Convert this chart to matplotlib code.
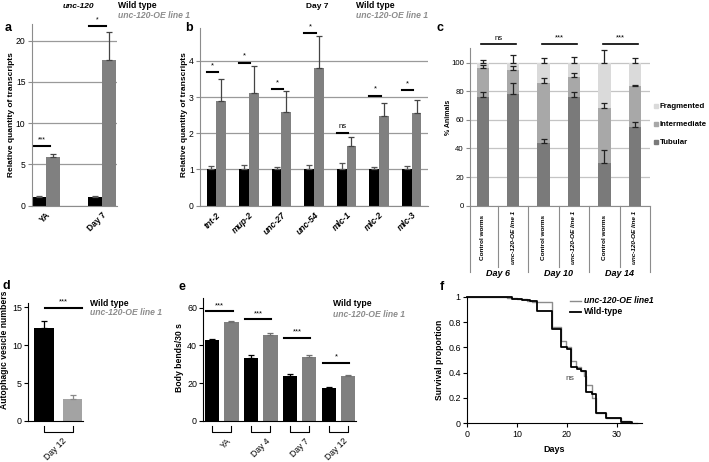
import matplotlib
matplotlib.use("Agg")
import matplotlib.pyplot as plt
import matplotlib.transforms as mtransforms
from matplotlib.patches import Rectangle
import numpy as np

plt.rcParams['font.family'] = ['Liberation Sans', 'DejaVu Sans']

W, H = 709, 462
GREY_TXT = '#8c8c8c'

# ---- panel a: unc-120 transcripts
a_groups = ['YA', 'Day 7']
a_wt = [1.0, 1.0]
a_wt_err = [0.15, 0.15]
a_oe = [5.85, 17.7]
a_oe_err = [0.35, 3.3]
a_sig = ['***', '*']
a_sig_y = [7.2, 21.8]

# ---- panel b: muscle genes at day 7
b_genes = ['tnt-2', 'mup-2', 'unc-27', 'unc-54', 'mlc-1', 'mlc-2', 'mlc-3']
b_wt = [1.0, 1.02, 1.0, 1.0, 1.0, 1.0, 1.0]
b_wt_err = [0.1, 0.1, 0.07, 0.13, 0.18, 0.06, 0.1]
b_oe = [2.9, 3.1, 2.58, 3.8, 1.64, 2.47, 2.57]
b_oe_err = [0.6, 0.76, 0.58, 0.89, 0.25, 0.38, 0.35]
b_sig = ['*', '*', '*', '*', 'ns', '*', '*']
b_sig_y = [3.68, 3.95, 3.22, 4.76, 2.02, 3.04, 3.2]

# ---- panel c: mitochondria morphology
c_labels = ['Control worms', 'unc-120-OE line 1'] * 3
c_days = ['Day 6', 'Day 10', 'Day 14']
c_tub = [76, 78, 44, 76, 30, 55]
c_int = [20, 17, 42, 14, 38, 29]
c_frag = [4, 5, 14, 10, 32, 16]
c_tub_err = [3.7, 8, 2.4, 3.5, 8.6, 3.3]
c_int_err = [2, 2.8, 3.5, 2.8, 3.7, 0.5]
c_frag_err = [2, 5, 3, 4, 8.8, 3]
c_sig = ['ns', '***', '***']

# ---- panel d: autophagic vesicles
d_group = 'Day 12'
d_wt, d_wt_err = 12.3, 0.9
d_oe, d_oe_err = 2.9, 0.5

# ---- panel e: body bends
e_groups = ['YA', 'Day 4', 'Day 7', 'Day 12']
e_wt = [43, 33.5, 23.8, 17.1]
e_wt_err = [0.6, 1.6, 0.8, 0.8]
e_oe = [52.5, 45.5, 33.9, 23.8]
e_oe_err = [0.7, 1.2, 0.9, 0.6]
e_sig = ['***', '***', '***', '*']
e_sig_y = [58, 53.8, 44.1, 30.7]

# ---- panel f: survival
f_wt_t = [0, 7, 9, 11, 12.5, 14, 17, 18.7, 20, 20.7, 21.9, 22.8, 23.8, 24.9, 25.8, 27.8, 30.8, 33]
f_wt_s = [1, 0.995, 0.985, 0.975, 0.965, 0.885, 0.745, 0.605, 0.59, 0.447, 0.43, 0.416, 0.25, 0.23, 0.08, 0.04, 0.013, 0.0]
f_oe_t = [0, 8, 10, 12, 13, 17, 18.7, 19.8, 20.7, 21.7, 22.8, 23.4, 23.8, 24.9, 25.8, 27.8, 30.8, 32.5, 34]
f_oe_s = [1, 0.99, 0.98, 0.965, 0.955, 0.76, 0.65, 0.605, 0.49, 0.445, 0.415, 0.37, 0.3, 0.2, 0.08, 0.04, 0.015, 0.005, 0.0]


def box(l, t, r, b):
    return [l / W, 1 - b / H, (r - l) / W, (b - t) / H]


fig = plt.figure(figsize=(W / 100, H / 100), dpi=100)


def ftext(x, y, s, **kw):
    fig.text(x / W, 1 - y / H, s, **kw)


def excel_axes(ax, gridcolor, fs=6.2):
    for s in ['top', 'right']:
        ax.spines[s].set_visible(False)
    ax.spines['left'].set_color('#8c8c8c')
    ax.spines['bottom'].set_color('#8c8c8c')
    ax.yaxis.grid(True, color=gridcolor, lw=0.9)
    ax.set_axisbelow(True)
    ax.tick_params(axis='y', length=3, color='#8c8c8c', labelsize=fs, pad=1.5)
    ax.tick_params(axis='x', length=0)


def prism_axes(ax):
    for s in ['top', 'right']:
        ax.spines[s].set_visible(False)
    for s in ['left', 'bottom']:
        ax.spines[s].set_linewidth(0.8)
    ax.tick_params(axis='both', length=3, width=0.8, labelsize=6.4, pad=1.5)


def sig(ax, x0, x1, y, label, dy, fs=5.5):
    ax.plot([x0, x1], [y, y], color='black', lw=1.5, clip_on=False)
    ax.text((x0 + x1) / 2, y + dy, label, ha='center', va='bottom', fontsize=fs, clip_on=False)


errkw = dict(capsize=2.5, elinewidth=0.9, capthick=0.9)

# ================= a
ax = fig.add_axes(box(31.7, 24, 116.7, 205.7))
excel_axes(ax, '#9a9a9a')
x = np.arange(len(a_groups))
ax.bar(x - 0.125, a_wt, 0.25, color='black', zorder=2)
ax.bar(x + 0.125, a_oe, 0.25, color='#808080', zorder=2)
ax.errorbar(x - 0.125, a_wt, yerr=[np.zeros(2), a_wt_err], fmt='none', ecolor='#555555', **errkw)
ax.errorbar(x + 0.125, a_oe, yerr=[np.zeros(2), a_oe_err], fmt='none', ecolor='#444444', **errkw)
for i in range(len(a_groups)):
    sig(ax, x[i] - 0.22, x[i] + 0.07, a_sig_y[i], a_sig[i], 0.3, 5)
ax.set_xlim(-0.26, 1.27)
ax.set_ylim(0, 22)
ax.set_yticks([0, 5, 10, 15, 20])
ax.set_xticks(x)
ax.set_xticklabels(a_groups, rotation=45, ha='right', rotation_mode='anchor', fontsize=6.2, fontweight='bold')

# ================= b
ax = fig.add_axes(box(200, 28.3, 428, 205.7))
excel_axes(ax, '#9a9a9a')
x = np.arange(len(b_genes))
ax.bar(x - 0.15, b_wt, 0.3, color='black', zorder=2)
ax.bar(x + 0.15, b_oe, 0.3, color='#808080', zorder=2)
ax.errorbar(x - 0.15, b_wt, yerr=[np.zeros(7), b_wt_err], fmt='none', ecolor='#555555', **errkw)
ax.errorbar(x + 0.15, b_oe, yerr=[np.zeros(7), b_oe_err], fmt='none', ecolor='#444444', **errkw)
for i in range(len(b_genes)):
    sig(ax, x[i] - 0.3, x[i] + 0.05, b_sig_y[i], b_sig[i], 0.08, 5.5)
ax.set_xlim(-0.5, 6.5)
ax.set_ylim(0, 4.9)
ax.set_yticks([0, 1, 2, 3, 4])
ax.set_xticks(x)
ax.set_xticklabels(b_genes, rotation=45, ha='right', rotation_mode='anchor', fontsize=6.2,
                   fontweight='bold', fontstyle='italic')

# ================= c
ax = fig.add_axes(box(470, 48.3, 650, 205.7))
excel_axes(ax, '#c4c4c4', fs=5.6)
x = np.arange(len(c_labels))
tub = np.array(c_tub)
itm = np.array(c_int)
frg = np.array(c_frag)
ax.bar(x, tub, 0.41, color='#7a7a7a', zorder=2)
ax.bar(x, itm, 0.41, bottom=tub, color='#a8a8a8', zorder=2)
ax.bar(x, frg, 0.41, bottom=tub + itm, color='#dadada', zorder=2)
for top, err in [(tub, c_tub_err), (tub + itm, c_int_err), (tub + itm + frg, c_frag_err)]:
    ax.errorbar(x, top, yerr=[np.zeros(6), err], fmt='none', ecolor='#222222', zorder=3, **errkw)
for k in range(3):
    x0, x1 = 2 * k - 0.05, 2 * k + 1.1
    ax.plot([x0, x1], [112.8, 112.8], color='black', lw=1.2, clip_on=False)
    ax.text((x0 + x1) / 2, 114.5, c_sig[k], ha='center', va='bottom', fontsize=5.5, clip_on=False)
ax.set_xlim(-0.42, 5.5)
ax.set_ylim(0, 110)
ax.set_yticks(range(0, 101, 20))
ax.set_xticks([])
trans = mtransforms.blended_transform_factory(ax.transData, ax.transAxes)
for xb, ln in [(-0.42, -0.42), (0.5, -0.388), (1.5, -0.42), (2.5, -0.388), (3.5, -0.42), (4.5, -0.388), (5.5, -0.42)]:
    ax.plot([xb, xb], [0, ln], transform=trans, color='#8c8c8c', lw=0.8, clip_on=False)
for i, lab in enumerate(c_labels):
    st = 'normal' if i % 2 == 0 else 'italic'
    ax.text(x[i], -0.2, lab, transform=trans, rotation=90, ha='center', va='center',
            fontsize=4.6, fontweight='bold', fontstyle=st)
for k, day in enumerate(c_days):
    ax.text(2 * k + 0.5, -0.43, day, transform=trans, ha='center', va='center',
            fontsize=6.5, fontweight='bold', fontstyle='italic')
c_leg = [('Fragmented', '#dadada', 106), ('Intermediate', '#a8a8a8', 124), ('Tubular', '#7a7a7a', 142.3)]
for name, col, yy in c_leg:
    fig.add_artist(Rectangle((654 / W, 1 - (yy + 2) / H), 4 / W, 4 / H, color=col, transform=fig.transFigure))
    ftext(659.5, yy, name, fontsize=5.7, fontweight='bold', va='center')

# ================= d
ax = fig.add_axes(box(28.3, 303.3, 82.7, 421))
prism_axes(ax)
ax.bar([0], [d_wt], 0.68, color='black', zorder=2)
ax.bar([1], [d_oe], 0.68, color='#a3a3a3', zorder=2)
ax.errorbar([0], [d_wt], yerr=[[0], [d_wt_err]], fmt='none', ecolor='black', **errkw)
ax.errorbar([1], [d_oe], yerr=[[0], [d_oe_err]], fmt='none', ecolor='#8a8a8a', **errkw)
sig(ax, 0.045, 1.32, 14.9, '***', 0.3, 5.5)
ax.set_xlim(-0.535, 1.35)
ax.set_ylim(0, 15.5)
ax.set_yticks([0, 5, 10, 15])
ax.set_xticks([])
trans = mtransforms.blended_transform_factory(ax.transData, ax.transAxes)
ax.plot([0, 0, 1, 1], [-0.04, -0.09, -0.09, -0.04], transform=trans, color='black', lw=0.8, clip_on=False)
ax.text(0.62, -0.13, d_group, transform=trans, rotation=45, ha='right', va='top',
        rotation_mode='anchor', fontsize=6.2)

# ================= e
ax = fig.add_axes(box(203.3, 298.3, 356, 420.7))
prism_axes(ax)
x = np.arange(len(e_groups))
ax.bar(x - 0.25, e_wt, 0.37, color='black', zorder=2)
ax.bar(x + 0.25, e_oe, 0.37, color='#808080', zorder=2)
ax.errorbar(x - 0.25, e_wt, yerr=[np.zeros(4), e_wt_err], fmt='none', ecolor='black', **errkw)
ax.errorbar(x + 0.25, e_oe, yerr=[np.zeros(4), e_oe_err], fmt='none', ecolor='#707070', **errkw)
for i in range(len(e_groups)):
    sig(ax, x[i] - 0.4, x[i] + 0.28, e_sig_y[i], e_sig[i], 1.2, 5.5)
ax.set_xlim(-0.47, 3.45)
ax.set_ylim(0, 65)
ax.set_yticks([0, 20, 40, 60])
ax.set_xticks([])
trans = mtransforms.blended_transform_factory(ax.transData, ax.transAxes)
for i, g in enumerate(e_groups):
    ax.plot([i - 0.25, i - 0.25, i + 0.25, i + 0.25], [-0.041, -0.09, -0.09, -0.041],
            transform=trans, color='black', lw=0.8, clip_on=False)
    ax.text(i + 0.12, -0.13, g, transform=trans, rotation=45, ha='right', va='top',
            rotation_mode='anchor', fontsize=6.2)

# ================= f
ax = fig.add_axes(box(467, 296.7, 642, 423.3))
prism_axes(ax)
ax.step(f_oe_t, f_oe_s, where='post', color='#8c8c8c', lw=1.0, clip_on=False)
ax.step(f_wt_t, f_wt_s, where='post', color='black', lw=1.3, clip_on=False)
ax.text(20.5, 0.35, 'ns', ha='center', va='center', fontsize=6, color='#444444')
ax.set_xlim(0, 35)
ax.set_ylim(0, 1)
ax.set_xticks([0, 10, 20, 30])
ax.set_yticks([0, 0.2, 0.4, 0.6, 0.8, 1])
ax.set_yticklabels(['0', '0.2', '0.4', '0.6', '0.8', '1'])
ax.set_xlabel('Days', fontsize=6.5, fontweight='bold', labelpad=5)
fig.add_artist(plt.Line2D([570 / W, 581 / W], [1 - 300.7 / H] * 2, color='#8c8c8c', lw=1.0))
fig.add_artist(plt.Line2D([570 / W, 581 / W], [1 - 312 / H] * 2, color='black', lw=1.3))
ftext(584, 300.7, 'unc-120-OE line1', fontsize=6.2, fontweight='bold', fontstyle='italic', va='center')
ftext(584, 312, 'Wild-type', fontsize=6.2, fontweight='bold', va='center')

# ---- panel letters, y labels, legends
for let, (px, py) in zip('abcdef', [(8, 28), (189, 28), (440, 28), (6, 286), (182, 287), (442, 287)]):
    ftext(px, py, let, fontsize=9, fontweight='bold', ha='center', va='center')

ftext(11.5, 115, 'Relative quantity of transcripts', rotation=90, fontsize=6, fontweight='bold', ha='center', va='center')
ftext(185, 115, 'Relative quantity of transcripts', rotation=90, fontsize=6, fontweight='bold', ha='center', va='center')
ftext(448, 117, '% Animals', rotation=90, fontsize=5, fontweight='bold', ha='center', va='center')
ftext(5, 350, 'Autophagic vesicle numbers', rotation=90, fontsize=6.2, fontweight='bold', ha='center', va='center')
ftext(180, 358, 'Body bends/30 s', rotation=90, fontsize=6.2, fontweight='bold', ha='center', va='center')
ftext(439, 360, 'Survival proportion', rotation=90, fontsize=6.2, fontweight='bold', ha='center', va='center')

ftext(78, 6, 'unc-120', fontsize=6, fontweight='bold', fontstyle='italic', ha='center', va='center')
ftext(118, 6, 'Wild type', fontsize=6.2, fontweight='bold', va='center')
ftext(118, 15.5, 'unc-120-OE line 1', fontsize=6.2, fontweight='bold', fontstyle='italic', color=GREY_TXT, va='center')
ftext(316.7, 6, 'Day 7', fontsize=6, fontweight='bold', ha='center', va='center')
ftext(356, 6, 'Wild type', fontsize=6.2, fontweight='bold', va='center')
ftext(356, 15.5, 'unc-120-OE line 1', fontsize=6.2, fontweight='bold', fontstyle='italic', color=GREY_TXT, va='center')
ftext(89.5, 303, 'Wild type', fontsize=6.2, fontweight='bold', va='center')
ftext(89.5, 312.5, 'unc-120-OE line 1', fontsize=6.2, fontweight='bold', fontstyle='italic', color=GREY_TXT, va='center')
ftext(333, 303.5, 'Wild type', fontsize=6.2, fontweight='bold', va='center')
ftext(333, 314.5, 'unc-120-OE line 1', fontsize=6.2, fontweight='bold', fontstyle='italic', color=GREY_TXT, va='center')

fig.savefig('out.png', dpi=100)
